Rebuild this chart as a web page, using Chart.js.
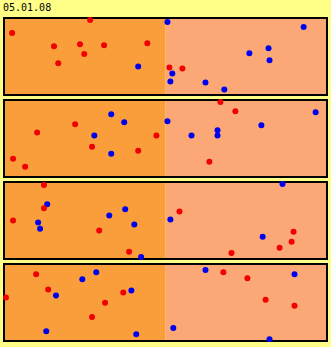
<!DOCTYPE html>
<html>
<head>
<meta charset="utf-8">
<script src="https://cdn.jsdelivr.net/npm/chart.js@4"></script>
<style>
  body { margin: 0; background: #ffff88; width: 331px; height: 347px; overflow: hidden; }
  #title { position: absolute; left: 3px; top: 2px; font-family: "DejaVu Sans Mono", monospace; font-size: 10px; line-height: 12px; color: #000; }
  canvas { position: absolute; left: 3px; }
</style>
</head>
<body>
<div id="title">05.01.08</div>
<canvas id="p0" width="325" height="79" style="top:17px"></canvas>
<canvas id="p1" width="325" height="79" style="top:99px"></canvas>
<canvas id="p2" width="325" height="79" style="top:181px"></canvas>
<canvas id="p3" width="325" height="79" style="top:263px"></canvas>
<script>
// x,y in percent of panel (y measured from top)
const redPoints = [
    [[2.8,20.4],[26.8,3.8],[15.7,37.0],[23.7,34.5],[31.1,35.7],[44.4,33.2],[25.0,46.8],[17.0,58.7],[51.2,63.8],[55.2,65.1]],
    [[66.9,3.8],[71.5,15.4],[22.2,32.1],[10.5,42.3],[47.2,46.2],[27.4,60.3],[41.6,65.4],[3.1,75.6],[6.8,85.9],[63.5,79.5]],
    [[12.6,5.1],[12.6,34.6],[3.1,50.0],[29.6,62.8],[54.3,38.5],[38.8,89.7],[70.3,91.0],[85.1,84.6],[88.8,76.9],[89.4,64.1]],
    [[10.2,14.2],[13.9,33.5],[0.9,43.8],[37.0,37.3],[31.4,50.2],[27.4,68.2],[67.8,11.6],[75.2,19.3],[80.8,46.4],[89.7,54.1]]
];
const bluePoints = [
    [[50.6,6.4],[92.5,12.8],[75.8,46.0],[81.7,39.6],[82.0,54.9],[41.6,62.6],[52.1,71.5],[51.5,81.7],[62.3,83.0],[68.1,91.9]],
    [[33.3,19.2],[37.3,29.5],[50.6,28.2],[96.2,16.7],[79.5,33.3],[28.1,46.2],[58.0,46.2],[66.0,39.7],[66.0,46.2],[33.3,69.2]],
    [[86.0,3.8],[13.6,29.5],[37.6,35.9],[32.7,43.6],[10.8,52.6],[11.4,60.3],[40.4,55.1],[51.5,48.7],[79.9,70.5],[42.5,96.2]],
    [[28.7,11.6],[24.4,20.6],[16.3,41.2],[39.5,34.8],[13.3,86.3],[41.0,90.1],[62.3,9.0],[89.7,14.2],[52.4,82.4],[82.0,96.6]]
];
const splitAt = 50;

// two shaded halves plus the black frame, under the dots
const halves = {
    id: 'halves',
    beforeDatasetsDraw(chart) {
        const ctx = chart.ctx;
        const a = chart.chartArea;
        const mid = chart.scales.x.getPixelForValue(splitAt);
        ctx.save();
        ctx.fillStyle = '#fa9e3b';
        ctx.fillRect(a.left, a.top, mid - a.left, a.bottom - a.top);
        ctx.fillStyle = '#fba876';
        ctx.fillRect(mid, a.top, a.right - mid, a.bottom - a.top);
        ctx.strokeStyle = '#000';
        ctx.lineWidth = 2;
        ctx.strokeRect(a.left + 1, a.top + 1, a.right - a.left - 2, a.bottom - a.top - 2);
        ctx.restore();
    }
};

function toXY(list) {
    return list.map(p => ({ x: p[0], y: p[1] }));
}

for (let i = 0; i < 4; i++) {
    new Chart(document.getElementById('p' + i), {
        type: 'scatter',
        data: {
            datasets: [
                { data: toXY(redPoints[i]), backgroundColor: '#f00000', borderWidth: 0, pointRadius: 3, clip: false },
                { data: toXY(bluePoints[i]), backgroundColor: '#0000f0', borderWidth: 0, pointRadius: 3, clip: false }
            ]
        },
        options: {
            responsive: false,
            animation: false,
            events: [],
            layout: { padding: 0, autoPadding: false },
            plugins: { legend: { display: false }, tooltip: { enabled: false } },
            scales: {
                x: { display: false, min: 0, max: 100 },
                y: { display: false, min: 0, max: 100, reverse: true }
            }
        },
        plugins: [halves]
    });
}
</script>
</body>
</html>
